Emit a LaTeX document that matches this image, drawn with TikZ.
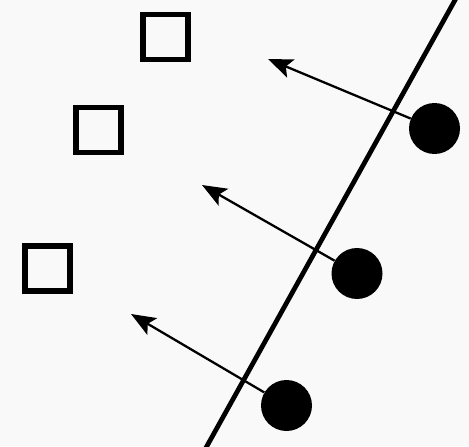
\documentclass[tikz,border=0pt]{standalone}
\usepackage{tikz}
\usetikzlibrary{arrows.meta}

\begin{document}
\begin{tikzpicture}[x=0.02cm, y=-0.02cm,
  box/.style={draw=black, line width=3.4pt, minimum size=0.9cm, inner sep=0pt},
  dot/.style={circle, fill=black, minimum size=1.02cm, inner sep=0pt},
  push/.style={line width=1.3pt, -{Stealth[length=14pt, width=11pt, inset=3pt]}}]

  % FRAME
  \fill[gray!5] (0,0) rectangle (469,446);
  \useasboundingbox (0,0) rectangle (469,446);
  \clip (0,0) rectangle (469,446);

  % SQUARES
  \node[box] (s1) at (165.5, 37) {};
  \node[box] (s2) at (98.5, 130) {};
  \node[box] (s3) at (47.5, 268.5) {};

  % DIVIDING LINE
  \coordinate (ltop) at (459.5, -8);
  \coordinate (lbot) at (202.5, 454);
  \draw[line width=2.7pt] (ltop) -- (lbot);

  % DOTS AND ARROWS
  \node[dot] (c1) at (434.5, 128.5) {};
  \node[dot] (c2) at (357, 273.5) {};
  \node[dot] (c3) at (286.5, 405.5) {};
  \coordinate (t1) at (268, 59);
  \coordinate (t2) at (202, 185);
  \coordinate (t3) at (131, 314);
  \draw[push] (c1) -- (t1);
  \draw[push] (c2) -- (t2);
  \draw[push] (c3) -- (t3);
\end{tikzpicture}
\end{document}
